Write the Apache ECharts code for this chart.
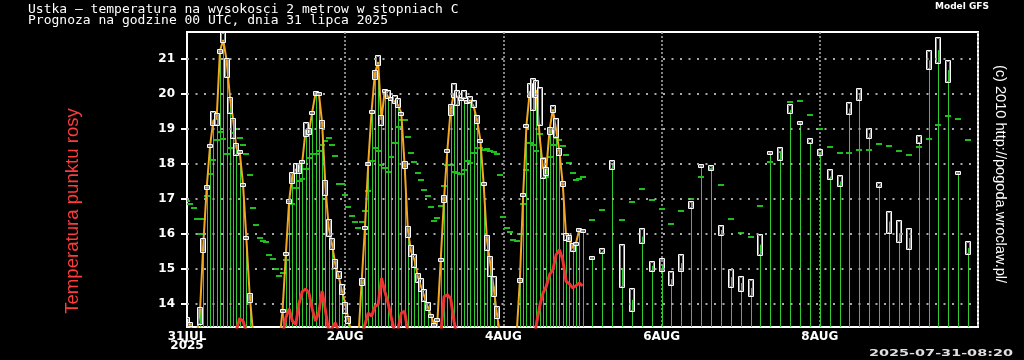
<!DOCTYPE html>
<html><head><meta charset="utf-8">
<script src="https://cdn.jsdelivr.net/npm/echarts@6/dist/echarts.min.js"></script>
<style>html,body{margin:0;padding:0;background:#000}#c{width:1024px;height:360px}</style>
</head><body><div id="c"></div>
<script>
// ---------- DATA ----------
const TITLE_1 = 'Ustka — temperatura na wysokosci 2 metrow w stopniach C';
const TITLE_2 = 'Prognoza na godzine 00 UTC, dnia 31 lipca 2025';
const MODEL_TEXT = 'Model GFS';
const COPYRIGHT = '(c) 2010 http://pogoda.wroclaw.pl/';
const DEW_TITLE = 'Temperatura punktu rosy';
const STAMP = '2025-07-31-08:20';

const Y_TICKS = [14, 15, 16, 17, 18, 19, 20, 21];
const X_TICK_LABELS = { 0: '31JUL\n2025', 48: '2AUG', 96: '4AUG', 144: '6AUG', 192: '8AUG' };

// hourly part (hours after 31 Jul 00 UTC)
const HOURS_1H = [0,1,2,3,4,5,6,7,8,9,10,11,12,13,14,15,16,17,18,19,20,21,22,23,24,25,26,27,28,29,
30,31,32,33,34,35,36,37,38,39,40,41,42,43,44,45,46,47,48,49,50,51,52,53,54,55,56,57,58,59,
60,61,62,63,64,65,66,67,68,69,70,71,72,73,74,75,76,77,78,79,80,81,82,83,84,85,86,87,88,89,
90,91,92,93,94,95,96,97,98,99,100,101,102,103,104,105,106,107,108,109,110,111,112,113,114,115,116,117,118,119,120];
const TEMP_1H = [13.45,13.4,13.1,13.1,13.89,15.8,17.34,18.53,19.24,19.3,
21.24,21.55,20.98,19.94,19.27,18.46,18.34,17.41,15.89,14.27,
13.2,13.0,12.9,12.9,12.8,12.8,12.7,12.7,12.9,13.81,
15.43,16.95,17.7,17.84,17.89,18.08,18.98,18.91,19.49,20.03,
20.03,19.17,17.36,16.17,15.7,15.12,14.79,14.36,14.0,13.54,
13.1,12.9,13.0,14.64,16.19,18.02,19.51,20.59,20.92,19.26,
20.11,19.92,19.88,19.78,19.69,19.47,18.02,16.11,15.49,15.26,
14.78,14.49,14.21,13.92,13.66,13.4,13.54,15.28,17.02,18.4,
19.56,20.02,19.92,19.88,19.82,19.78,19.82,19.64,19.26,18.69,
17.43,15.83,15.16,14.49,13.73,13.1,12.9,12.8,12.8,12.9,
13.1,14.67,17.14,19.11,20.07,20.07,20.11,18.78,17.88,17.83,
18.97,19.56,18.97,18.35,17.43,15.97,15.88,15.59,15.73,16.11,
16.1];
const BOX_LO_1H = [13.41,13.36,null,null,13.41,15.49,17.29,18.48,19.12,19.12,
21.17,21.5,20.5,19.46,18.74,18.27,18.3,17.36,15.87,14.06,
null,null,null,null,null,null,null,null,null,13.78,
15.4,16.89,17.46,17.74,17.74,18.04,18.79,18.86,19.46,19.98,
20.0,19.03,17.12,15.93,15.55,15.03,14.72,14.27,13.73,13.45,
null,null,null,14.54,16.15,17.98,19.47,20.42,20.83,19.11,
20.07,19.88,19.84,19.75,19.64,19.43,17.88,15.92,15.35,15.05,
14.61,14.35,14.07,13.83,13.62,13.37,13.5,15.25,16.92,18.37,
19.4,19.92,19.69,19.84,19.88,19.74,19.78,19.64,19.18,18.65,
17.4,15.54,14.78,14.21,13.59,null,null,null,null,null,
null,14.63,17.1,19.07,19.92,19.56,19.92,19.11,17.59,17.69,
18.86,19.49,18.78,18.26,17.37,15.83,15.78,15.52,15.7,16.07,
16.05];
const BOX_HI_1H = [13.62,13.46,null,null,13.91,15.89,17.39,18.57,19.52,19.46,
21.29,21.77,21.03,19.93,19.33,18.6,18.4,17.46,15.93,14.31,
null,null,null,null,null,null,null,null,null,13.85,
15.47,17.01,17.77,18.03,18.03,18.11,19.2,19.03,19.52,20.1,
20.06,19.27,17.55,16.41,15.89,15.27,14.93,14.55,14.05,13.64,
null,null,null,14.73,16.23,18.06,19.55,20.69,21.11,19.4,
20.15,20.11,19.92,19.97,19.88,19.5,18.09,16.21,15.69,15.43,
14.88,14.73,14.42,14.04,13.7,13.44,13.59,15.32,17.11,18.44,
19.73,20.32,20.11,19.92,20.11,19.82,19.94,19.83,19.4,18.72,
17.47,15.97,15.35,14.78,13.92,null,null,null,null,null,
null,14.72,17.18,19.15,20.33,20.45,20.4,20.21,18.16,17.92,
19.07,19.69,19.31,18.45,17.5,16.02,15.97,15.73,15.76,16.16,
16.15];
const DASH_1H = [16.95,16.84,16.74,16.41,16.0,16.41,17.09,17.7,18.12,18.69,
18.91,18.71,18.29,18.46,18.89,19.0,18.74,18.53,18.29,17.69,
16.74,16.26,15.89,15.8,15.76,15.39,15.29,15.0,14.79,14.89,
15.25,16.0,16.84,17.3,17.5,17.58,17.87,18.17,18.29,18.29,
18.36,18.53,18.67,18.74,18.53,18.22,17.43,17.43,17.1,16.78,
16.52,16.35,16.16,16.33,16.66,17.23,18.09,18.47,18.37,17.97,
17.89,17.78,18.19,18.61,19.05,19.26,19.26,18.77,18.32,18.06,
17.73,17.54,17.26,17.09,16.78,16.38,16.45,16.81,17.37,17.97,
17.97,17.78,17.75,17.7,17.83,18.09,18.04,18.31,18.45,18.47,
18.4,18.43,18.38,18.35,18.28,17.69,16.47,16.16,16.04,15.83,
15.8,16.0,16.86,17.83,18.61,18.54,18.38,18.86,18.16,17.64,
18.21,18.54,18.73,18.69,18.51,18.26,18.04,17.75,17.54,17.57,
17.64];
const DEW_1H = [12.9,12.8,12.7,12.6,12.6,12.7,12.8,12.9,12.9,12.8,
12.9,13.0,13.0,13.1,13.1,13.25,13.58,13.5,13.2,13.0,
12.8,12.6,12.4,12.3,12.2,12.2,12.3,12.5,12.8,13.1,
13.6,13.85,13.5,13.4,14.0,14.35,14.42,14.3,13.85,13.5,
13.75,14.36,13.8,13.2,13.3,13.45,13.2,13.0,12.8,12.6,
12.5,12.5,12.7,13.1,13.4,13.73,13.64,13.92,13.97,14.73,
14.35,14.02,13.59,13.2,13.25,13.73,13.78,13.2,13.0,12.8,
12.7,12.6,12.5,12.5,12.4,12.4,12.6,13.1,14.2,14.25,
14.15,13.5,13.0,12.9,12.8,12.8,12.9,12.9,12.8,12.7,
12.6,12.4,12.3,12.2,12.1,12.0,11.9,11.9,12.0,12.1,
12.3,12.5,12.7,12.9,13.0,12.9,13.4,13.92,14.3,14.49,
14.83,14.97,15.4,15.54,15.26,14.64,14.57,14.45,14.51,14.59,
14.51];

// 3-hourly part
const HOURS_3H = [123,126,129,132,135,138,141,144,147,150,153,156,159,162,165,168,171,174,177,180,
183,186,189,192,195,198,201,204,207,210,213,216,219,222,225,228,231,234,237];
const TEMP_3H = [15.3,15.5,18.0,15.02,14.11,15.92,15.08,15.1,14.7,15.16,16.88,17.93,17.9,16.11,14.76,14.59,14.45,15.69,18.33,18.32,
19.55,19.2,18.62,18.33,17.64,17.5,19.59,19.97,18.88,17.4,16.35,16.02,15.88,18.63,20.97,21.26,20.69,17.78,15.59];
const BOX_LO_3H = [15.28,15.45,17.85,14.48,13.78,15.75,14.93,14.92,14.52,14.94,16.73,17.9,17.83,15.97,14.49,14.37,14.23,15.38,18.29,18.11,
19.45,19.17,18.6,18.27,17.56,17.38,19.42,19.83,18.73,17.35,16.02,15.76,15.56,18.61,20.71,20.9,20.35,17.76,15.42];
const BOX_HI_3H = [15.37,15.59,18.11,15.71,14.45,16.16,15.22,15.31,14.93,15.42,16.94,18.0,17.97,16.26,15.0,14.8,14.71,16.0,18.37,18.5,
19.73,19.23,18.74,18.43,17.85,17.67,19.78,20.17,19.02,17.49,16.65,16.39,16.18,18.83,21.26,21.64,20.97,17.8,15.78];
const DASH_3H = [16.4,16.67,18.0,16.4,16.92,17.29,16.97,16.72,16.27,16.64,17.01,17.64,17.85,17.41,16.41,16.01,15.92,16.8,18.06,18.33,
19.78,19.81,19.41,19.01,18.5,18.32,18.3,18.4,18.4,18.56,18.52,18.37,18.26,18.5,18.72,19.13,19.38,19.29,18.7];

// ---------- CHART ----------
const YMIN = 13.33, YMAX = 21.78;
const stemData = HOURS_1H.map((h, i) => [h, TEMP_1H[i]]).concat(HOURS_3H.map((h, i) => [h, TEMP_3H[i]]));
const boxData = HOURS_1H.map((h, i) => [h, BOX_LO_1H[i], BOX_HI_1H[i]])
  .concat(HOURS_3H.map((h, i) => [h, BOX_LO_3H[i], BOX_HI_3H[i]]))
  .filter(d => d[1] != null);
const dashData = HOURS_1H.map((h, i) => [h, DASH_1H[i]]).concat(HOURS_3H.map((h, i) => [h, DASH_3H[i]]));
const tempLine = HOURS_1H.map((h, i) => [h, TEMP_1H[i]]);
const dewLine = HOURS_1H.map((h, i) => [h, DEW_1H[i]]);

function renderStem(params, api) {
  const h = api.value(0), v = api.value(1);
  if (v <= YMIN) return null;
  const top = api.coord([h, v]);
  const bot = api.coord([h, YMIN]);
  const x = Math.round(top[0]) + 0.5;
  return { type: 'line', shape: { x1: x, y1: bot[1], x2: x, y2: top[1] },
    style: { stroke: '#2ecc2e', lineWidth: 1 } };
}
function renderBox(params, api) {
  const h = api.value(0), lo = api.value(1), hi = api.value(2);
  const pHi = api.coord([h, hi]), pLo = api.coord([h, lo]);
  const cx = Math.round(pHi[0]);
  const y1 = Math.round(pHi[1]) + 0.5;
  let hgt = Math.round(pLo[1]) - Math.round(pHi[1]);
  if (hgt < 3) hgt = 3;
  return { type: 'group', children: [
    { type: 'rect', shape: { x: cx - 2.5, y: y1, width: 5, height: hgt }, style: { fill: 'none', stroke: '#ffffff', lineWidth: 1 } },
    { type: 'rect', shape: { x: cx - 1.5, y: y1 + 1, width: 3, height: Math.max(hgt - 2, 1) }, style: { fill: 'none', stroke: '#8a8a8a', lineWidth: 1 } }
  ] };
}
function renderDash(params, api) {
  const p = api.coord([api.value(0), api.value(1)]);
  return { type: 'rect', shape: { x: Math.round(p[0]) - 3, y: Math.round(p[1]) - 1, width: 6, height: 2 },
    style: { fill: '#1fbf1f' } };
}

const chart = echarts.init(document.getElementById('c'), null, { renderer: 'canvas', width: 1024, height: 360 });
chart.setOption({
  backgroundColor: '#000000',
  animation: false,
  grid: { left: 187, right: 46, top: 32, bottom: 33, show: true, borderColor: '#ffffff', borderWidth: 2, backgroundColor: 'transparent' },
  xAxis: {
    type: 'value', min: 0, max: 240, interval: 48,
    axisLine: { show: false }, axisTick: { show: false },
    axisLabel: { color: '#ffffff', fontFamily: 'DejaVu Sans', fontWeight: 'bold', fontSize: 12, lineHeight: 9, margin: 5,
      showMaxLabel: false, formatter: v => X_TICK_LABELS[v] || '' },
    splitLine: { show: true, lineStyle: { color: '#b0b0b0', type: [2, 2], width: 1.5 } }
  },
  yAxis: {
    type: 'value', min: YMIN, max: YMAX,
    axisLine: { show: true, lineStyle: { color: '#ffffff', width: 2 } },
    axisTick: { show: true, length: 6, customValues: Y_TICKS, lineStyle: { color: '#ffffff', width: 2 } },
    axisLabel: { color: '#ffffff', fontFamily: 'DejaVu Sans', fontWeight: 'bold', fontSize: 12, margin: 12, customValues: Y_TICKS,
      formatter: v => String(v) },
    splitLine: { show: false }
  },
  title: [{
    text: TITLE_1 + '\n' + TITLE_2, left: 28, top: 4, padding: 0,
    textStyle: { color: '#ffffff', fontFamily: 'DejaVu Sans Mono', fontSize: 13, fontWeight: 'normal', lineHeight: 11 }
  }],
  graphic: [
    { type: 'text', x: 962, y: 7, style: { text: MODEL_TEXT, fill: '#ffffff', font: 'bold 9px DejaVu Sans', align: 'center', verticalAlign: 'middle' } },
    { type: 'text', x: 1000, y: 174, rotation: -Math.PI / 2, style: { text: COPYRIGHT, fill: '#ffffff', font: '14.6px Liberation Sans', align: 'center', verticalAlign: 'middle' } },
    { type: 'text', x: 73, y: 211, rotation: Math.PI / 2, style: { text: DEW_TITLE, fill: '#ff3b3b', font: '18.6px Liberation Sans', align: 'center', verticalAlign: 'middle' } },
    { type: 'text', x: 941, y: 354, scaleX: 1.6, style: { text: STAMP, fill: '#e0e0e0', font: 'bold 9px DejaVu Sans', align: 'center', verticalAlign: 'middle' } }
  ],
  series: [
    { type: 'line', data: [], z: 0, silent: true,
      markLine: { silent: true, symbol: 'none', label: { show: false }, animation: false,
        lineStyle: { color: '#a8a8a8', type: [2, 6.5], width: 2 },
        data: Y_TICKS.map(v => ({ yAxis: v })) } },
    { type: 'custom', name: 'stems', data: stemData, renderItem: renderStem, clip: true, z: 1, silent: true, encode: { x: 0, y: 1 } },
    { type: 'custom', name: 'dash', data: dashData, renderItem: renderDash, clip: true, z: 2, silent: true, encode: { x: 0, y: 1 } },
    { type: 'line', name: 'temp', data: tempLine, showSymbol: false, clip: true, z: 3, silent: true,
      lineStyle: { color: '#f5a623', width: 2 } },
    { type: 'custom', name: 'box', data: boxData, renderItem: renderBox, clip: true, z: 4, silent: true, encode: { x: 0, y: [1, 2] } },
    { type: 'line', name: 'dew', data: dewLine, showSymbol: false, clip: true, z: 5, silent: true,
      lineStyle: { color: '#ee3333', width: 3 } }
  ]
});
</script>
</body></html>
